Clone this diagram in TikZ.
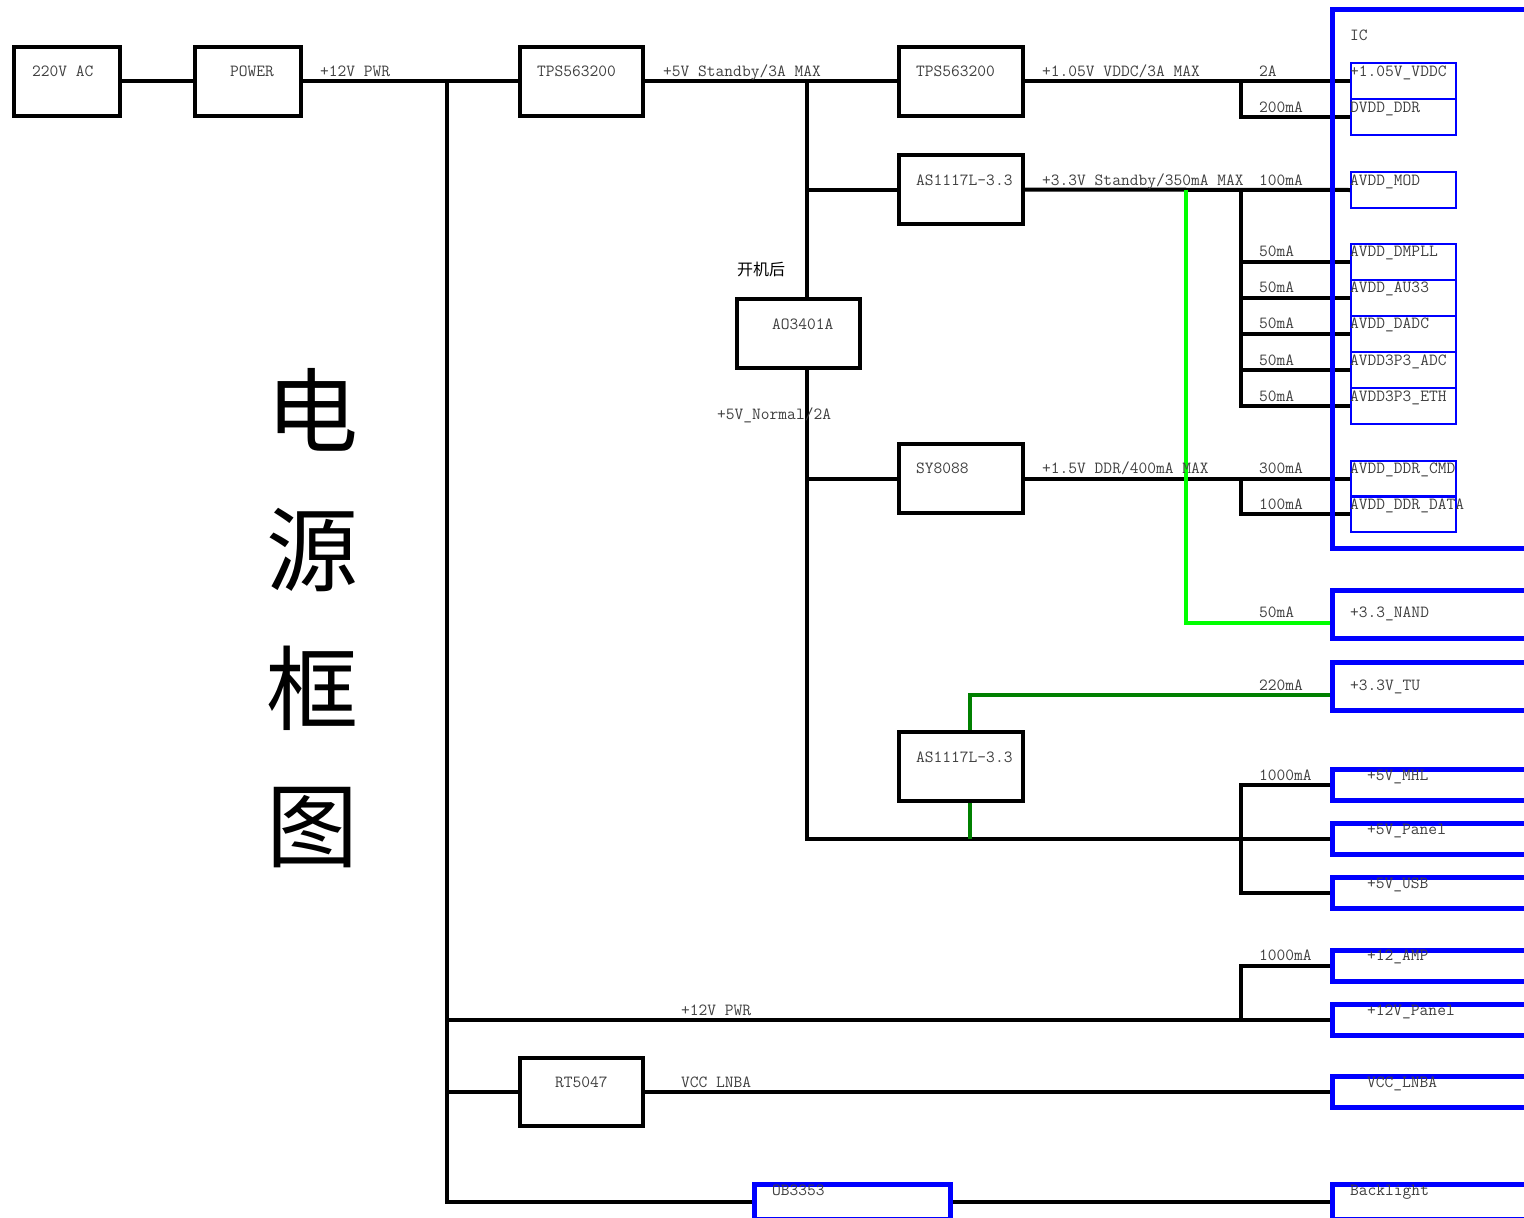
\documentclass[tikz,border=0pt]{standalone}
\usepackage{fontspec}
\newfontfamily\cjk{Noto Sans CJK SC}
\usetikzlibrary{backgrounds}

\definecolor{icblue}{RGB}{0,0,255}
\definecolor{litegreen}{RGB}{0,255,0}
\definecolor{darkgreen}{RGB}{0,128,0}

\tikzset{
    chip/.style={draw, line width=4pt, minimum height=69pt, inner sep=0pt},
    pin/.style={draw=icblue, line width=2pt, minimum width=105pt, minimum height=36pt, inner sep=0pt},
    rail/.style={draw=icblue, line width=5pt, minimum width=268pt, inner sep=0pt},
    wire/.style={line width=4pt},
    lbl/.style={anchor=base west, inner sep=0pt, yshift=-5pt, text=black!75,
        font=\ttfamily\fontsize{17}{17}\selectfont},
    cn/.style={inner sep=0pt, text=black}
}

\begin{document}
\begin{tikzpicture}[x=1pt, y=-1pt]
        \useasboundingbox (0,0) rectangle (1524,1218);
        \clip (0,0) rectangle (1524,1218);

        \node[chip, minimum width=106pt] (ac) at (67,81) {};
        \node[chip, minimum width=106pt] (pwr) at (248,81) {};
        \node[chip, minimum width=123pt] (tpsA) at (581.5,81) {};
        \node[chip, minimum width=124pt] (tpsB) at (961,81) {};
        \node[chip, minimum width=124pt] (asA) at (961,189.5) {};
        \node[chip, minimum width=123pt] (ao) at (798.5,333.5) {};
        \node[chip, minimum width=124pt] (sy) at (961,478.5) {};
        \node[chip, minimum width=124pt] (asB) at (961,766.5) {};
        \node[chip, minimum width=123pt, minimum height=68pt] (rt) at (581.5,1092) {};

        \node[rail, minimum height=539pt] (ic) at (1466,278.5) {};
        \node[rail, minimum height=48pt] (nand) at (1466,614) {};
        \node[rail, minimum height=48pt] (tu) at (1466,686.5) {};
        \node[rail, minimum height=31pt] (mhl) at (1466,785) {};
        \node[rail, minimum height=31pt] (panel) at (1466,839) {};
        \node[rail, minimum height=31pt] (usb) at (1466,893) {};
        \node[rail, minimum height=31pt] (amp) at (1466,966) {};
        \node[rail, minimum height=31pt] (p12) at (1466,1020) {};
        \node[rail, minimum height=31pt] (lnba) at (1466,1092) {};
        \node[rail, minimum height=35pt] (blight) at (1466,1202) {};
        \node[rail, minimum width=196pt, minimum height=35pt] (ob) at (852.5,1202) {};

        \node[pin] (vddc) at (1403.5,81) {};
        \node[pin] (dvdd) at (1403.5,117) {};
        \node[pin] (mod) at (1403.5,190) {};
        \node[pin] (dmpll) at (1403.5,262) {};
        \node[pin] (au33) at (1403.5,298) {};
        \node[pin] (dadc) at (1403.5,334) {};
        \node[pin] (adc) at (1403.5,370) {};
        \node[pin] (eth) at (1403.5,406) {};
        \node[pin] (cmd) at (1403.5,478.5) {};
        \node[pin] (data) at (1403.5,514) {};

        \coordinate (busT) at (447,81);
        \coordinate (bus5) at (807,81);
        \coordinate (bus12) at (447,1020);
        \coordinate (ddrT) at (1241,81);
        \coordinate (avT) at (1241,189.5);
        \coordinate (dT) at (1241,478.5);
        \coordinate (gT) at (1186,189.5);
        \coordinate (gB) at (1186,623);
        \coordinate (tuIn) at (1332,695);

        \begin{scope}[on background layer]
            \draw[wire] (ac.east) -- (pwr.west);
            \draw[wire] (pwr.east) -- (tpsA.west);
            \draw[wire] (tpsA.east) -- (tpsB.west);
            \draw[wire] (busT) |- (ob.west);
            \draw[wire] (ob.east) -- (blight.west);
            \draw[wire] (bus12) -- (p12.west);
            \draw[wire] (p12.west -| avT) -- (amp.west -| avT) -- (amp.west);
            \draw[wire] (rt.west -| busT) -- (rt.west);
            \draw[wire] (rt.east) -- (lnba.west);

            \draw[wire] (bus5) -- (ao.north -| bus5);
            \draw[wire] (ao.south -| bus5) |- (panel.west);
            \draw[wire] (asA.west -| bus5) -- (asA.west);
            \draw[wire] (sy.west -| bus5) -- (sy.west);
            \draw[wire] (mhl.west) -- (mhl.west -| avT) -- (usb.west -| avT) -- (usb.west);

            \draw[wire] (tpsB.east) -- (vddc.west);
            \draw[wire] (ddrT) |- (dvdd.west);
            \draw[wire] (asA.east) -- (mod.west);
            \draw[wire] (avT) |- (eth.west);
            \foreach \p in {dmpll,au33,dadc,adc}
                \draw[wire] (\p.west -| avT) -- (\p.west);
            \draw[wire] (sy.east) -- (cmd.west);
            \draw[wire] (dT) |- (data.west);

            \draw[wire, litegreen] (gT) -- (gB) -- (gB -| nand.west);
            \draw[wire, darkgreen] ([xshift=9pt]asB.north) |- (tuIn);
            \draw[wire, darkgreen] ([xshift=9pt]asB.south)
                -- ([xshift=9pt]asB.south |- panel.west);
        \end{scope}

        \node[lbl] (tAC) at (32,71) {220V AC};
        \node[lbl] (tPwr) at (230,71) {POWER};
        \node[lbl] (t12A) at (320,71) {+12V PWR};
        \node[lbl] (tTpsA) at (537,71) {TPS563200};
        \node[lbl] (t5Sb) at (663,71) {+5V Standby/3A MAX};
        \node[lbl] (tTpsB) at (916,71) {TPS563200};
        \node[lbl] (tVddc) at (1042,71) {+1.05V VDDC/3A MAX};
        \node[lbl] (t2A) at (1259,71) {2A};
        \node[lbl] (t200) at (1259,107) {200mA};
        \node[lbl] (tIC) at (1350,35) {IC};
        \node[lbl] (pVddc) at (1350,71) {+1.05V\_VDDC};
        \node[lbl] (pDvdd) at (1350,107) {DVDD\_DDR};
        \node[lbl] (tAsA) at (916,180) {AS1117L-3.3};
        \node[lbl] (t33Sb) at (1042,180) {+3.3V Standby/350mA MAX};
        \node[lbl] (t100A) at (1259,180) {100mA};
        \node[lbl] (pMod) at (1350,180) {AVDD\_MOD};
        \foreach \y [count=\i] in {251,287,323,360,396}
            \node[lbl] (ma\i) at (1259,\y) {50mA};
        \node[lbl] (pDmpll) at (1350,251) {AVDD\_DMPLL};
        \node[lbl] (pAu) at (1350,287) {AVDD\_AU33};
        \node[lbl] (pDadc) at (1350,323) {AVDD\_DADC};
        \node[lbl] (pAdc) at (1350,360) {AVDD3P3\_ADC};
        \node[lbl] (pEth) at (1350,396) {AVDD3P3\_ETH};
        \node[cn, anchor=west, font=\cjk\fontsize{16}{16}\selectfont] (tOn) at (737,269) {开机后};
        \node[lbl] (tAo) at (772,324) {AO3401A};
        \node[lbl] (t5N) at (717,414) {+5V\_Normal/2A};
        \node[lbl] (tSy) at (916,468) {SY8088};
        \node[lbl] (t15) at (1042,468) {+1.5V DDR/400mA MAX};
        \node[lbl] (t300) at (1259,468) {300mA};
        \node[lbl] (t100B) at (1259,504) {100mA};
        \node[lbl] (pCmd) at (1350,468) {AVDD\_DDR\_CMD};
        \node[lbl] (pData) at (1350,504) {AVDD\_DDR\_DATA};
        \node[lbl] (t50N) at (1259,612) {50mA};
        \node[lbl] (tNand) at (1350,612) {+3.3\_NAND};
        \node[lbl] (t220) at (1259,685) {220mA};
        \node[lbl] (tTu) at (1350,685) {+3.3V\_TU};
        \node[lbl] (tAsB) at (916,757) {AS1117L-3.3};
        \node[lbl] (t1000A) at (1259,775) {1000mA};
        \node[lbl] (tMhl) at (1367,775) {+5V\_MHL};
        \node[lbl] (tPanel) at (1367,829) {+5V\_Panel};
        \node[lbl] (tUsb) at (1367,883) {+5V\_USB};
        \node[lbl] (t1000B) at (1259,955) {1000mA};
        \node[lbl] (tAmp) at (1367,955) {+12\_AMP};
        \node[lbl] (tP12) at (1367,1010) {+12V\_Panel};
        \node[lbl] (t12B) at (681,1010) {+12V PWR};
        \node[lbl] (tRt) at (555,1082) {RT5047};
        \node[lbl] (tLnbW) at (681,1082) {VCC LNBA};
        \node[lbl] (tLnb) at (1367,1082) {VCC\_LNBA};
        \node[lbl] (tOb) at (772,1190) {OB3353};
        \node[lbl] (tBl) at (1350,1190) {Backlight};

        \node[cn, font=\cjk\fontsize{92}{92}\selectfont] (hDian) at (312,410) {电};
        \node[cn, font=\cjk\fontsize{92}{92}\selectfont] (hYuan) at (312,550) {源};
        \node[cn, font=\cjk\fontsize{92}{92}\selectfont] (hKuang) at (312,688) {框};
        \node[cn, font=\cjk\fontsize{92}{92}\selectfont] (hTu) at (312,828) {图};
\end{tikzpicture}
\end{document}
